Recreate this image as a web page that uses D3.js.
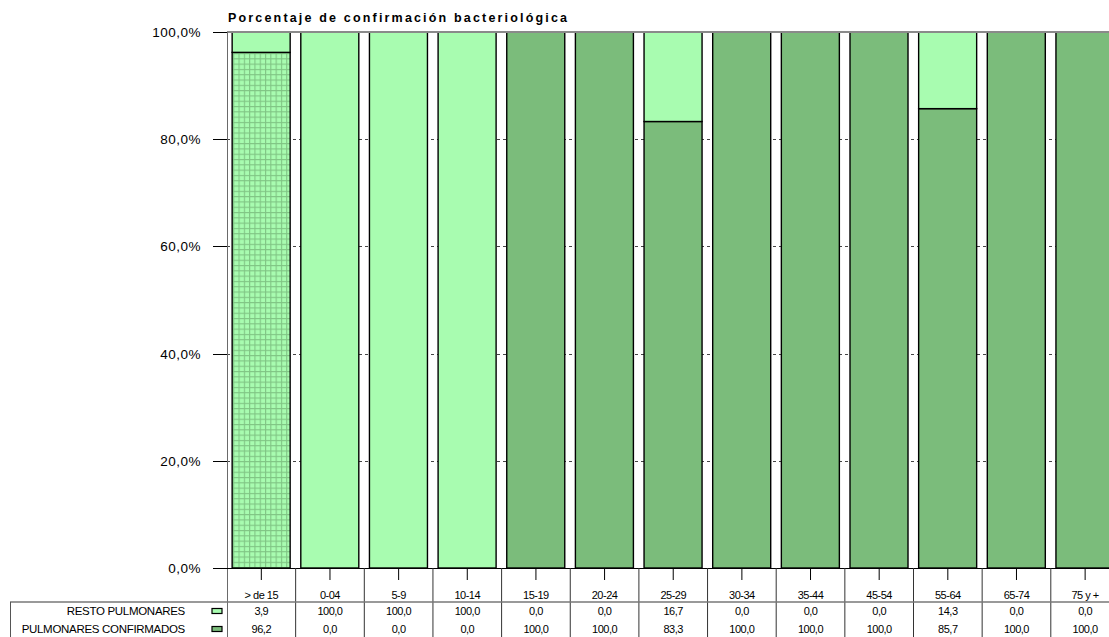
<!DOCTYPE html>
<html>
<head>
<meta charset="utf-8">
<script src="https://cdn.jsdelivr.net/npm/d3@7"></script>
<style>
  html, body { margin: 0; padding: 0; background: #fff; }
  svg { display: block; }
  text { font-family: "Liberation Sans", Arial, sans-serif; fill: #000; }
</style>
</head>
<body>
<svg id="chart" width="1109" height="637"></svg>
<script>
const title = "Porcentaje de confirmación bacteriológica";
const categories = ["> de 15","0-04","5-9","10-14","15-19","20-24","25-29","30-34","35-44","45-54","55-64","65-74","75 y +"];
const seriesNames = ["RESTO PULMONARES", "PULMONARES CONFIRMADOS"];
const resto =       [3.9, 100, 100, 100, 0, 0, 16.7, 0, 0, 0, 14.3, 0, 0];
const confirmados = [96.2, 0, 0, 0, 100, 100, 83.3, 100, 100, 100, 85.7, 100, 100];
const yTicks = [0, 20, 40, 60, 80, 100];

(function () {
const LIGHT = "#a8fcb0";
const DARK = "#7bbc7b";

const svg = d3.select("#chart");
const W = 1109, H = 637;
const pLeft = 227, pTop = 32, pBottom = 568;
const step = 68.65;

const x = d3.scaleBand().domain(categories).range([pLeft, pLeft + step * categories.length]).padding(0);
const y = d3.scaleLinear().domain([0, 100]).range([pBottom, pTop]);

const defs = svg.append("defs");
const pat = defs.append("pattern").attr("id", "grid").attr("patternUnits", "userSpaceOnUse")
  .attr("width", 5.3).attr("height", 5.3).attr("x", 0).attr("y", 0);
pat.append("rect").attr("width", 5.3).attr("height", 5.3).attr("fill", LIGHT);
pat.append("path").attr("d", "M0,0.5 H5.3 M0.5,0 V5.3").attr("stroke", "#80c484").attr("stroke-width", 1.2);

// gridlines (dashed)
svg.append("g").selectAll("line").data(yTicks.filter(t => t > 0 && t < 100)).join("line")
  .attr("x1", pLeft).attr("x2", W).attr("y1", d => Math.round(y(d)) + 0.5).attr("y2", d => Math.round(y(d)) + 0.5)
  .attr("stroke", "#444").attr("stroke-width", 1.2).attr("stroke-dasharray", "3,3");

const stack = categories.map((c, i) => {
  const c1 = Math.min(100, confirmados[i]);
  const r1 = Math.min(100, c1 + resto[i]);
  return {cat: c, i, segs: [
    {key: "conf", y0: 0, y1: c1},
    {key: "resto", y0: c1, y1: r1}
  ]};
});

const barOff = step * 0.075, barW = step * 0.845;
const gBars = svg.append("g");
stack.forEach(s => {
  s.segs.forEach(seg => {
    if (seg.y1 - seg.y0 <= 0) return;
    gBars.append("rect")
      .attr("x", x(s.cat) + barOff)
      .attr("y", y(seg.y1))
      .attr("width", barW)
      .attr("height", y(seg.y0) - y(seg.y1))
      .attr("fill", seg.key === "resto" ? LIGHT : (s.i === 0 ? "url(#grid)" : DARK))
      .attr("stroke", "#000").attr("stroke-width", 1.4);
  });
});

svg.append("line").attr("x1", pLeft).attr("x2", W).attr("y1", pTop).attr("y2", pTop)
  .attr("stroke", "#8a8a8a").attr("stroke-width", 2);

svg.append("line").attr("x1", pLeft + 0.5).attr("x2", pLeft + 0.5).attr("y1", pTop).attr("y2", H)
  .attr("stroke", "#6a6a6a").attr("stroke-width", 1);

const gy = svg.append("g");
gy.selectAll("line").data(yTicks).join("line")
  .attr("x1", 213).attr("x2", pLeft).attr("y1", d => Math.round(y(d)) + 0.5).attr("y2", d => Math.round(y(d)) + 0.5)
  .attr("stroke", "#000").attr("stroke-width", 1);
gy.selectAll("text").data(yTicks).join("text")
  .attr("x", 201).attr("y", d => y(d) + 5)
  .attr("text-anchor", "end")
  .style("font-size", "13.5px").style("letter-spacing", "0.5px")
  .text(d => d3.format(".1f")(d).replace(".", ",") + "%");

svg.append("line").attr("x1", 213).attr("x2", W).attr("y1", pBottom + 0.5).attr("y2", pBottom + 0.5)
  .attr("stroke", "#000").attr("stroke-width", 1.2);

svg.append("text").attr("x", 228).attr("y", 21.5)
  .style("font-size", "12.5px").style("font-weight", "bold")
  .attr("textLength", 339).attr("lengthAdjust", "spacing")
  .text(title);

svg.append("g").selectAll("line").data(categories).join("line")
  .attr("x1", d => x(d) + x.bandwidth() / 2).attr("x2", d => x(d) + x.bandwidth() / 2)
  .attr("y1", pBottom).attr("y2", 580).attr("stroke", "#000");

svg.append("g").selectAll("line").data(categories).join("line")
  .attr("x1", d => x(d) + x.bandwidth()).attr("x2", d => x(d) + x.bandwidth())
  .attr("y1", pBottom).attr("y2", H).attr("stroke", "#333").attr("stroke-width", 1);

svg.append("line").attr("x1", 10).attr("x2", W).attr("y1", 602).attr("y2", 602)
  .attr("stroke", "#777").attr("stroke-width", 1.5);
svg.append("line").attr("x1", 10.5).attr("x2", 10.5).attr("y1", 602).attr("y2", H)
  .attr("stroke", "#555").attr("stroke-width", 1);

svg.append("g").selectAll("text").data(categories).join("text")
  .attr("x", d => x(d) + x.bandwidth() / 2).attr("y", 599)
  .attr("text-anchor", "middle")
  .style("font-size", "11px").style("letter-spacing", "-0.5px")
  .text(d => d);

const rows = [resto, confirmados];
const rowY = [615, 633];
const fmt = v => d3.format(".1f")(v).replace(".", ",");
rows.forEach((vals, r) => {
  svg.append("text").attr("x", 185).attr("y", rowY[r]).attr("text-anchor", "end")
    .style("font-size", "11.5px").style("letter-spacing", "-0.3px")
    .text(seriesNames[r]);
  svg.append("rect").attr("x", 212).attr("y", rowY[r] - 6.5).attr("width", 10).attr("height", 5)
    .attr("fill", r === 0 ? LIGHT : DARK).attr("stroke", "#000").attr("stroke-width", 1.2);
  svg.append("g").selectAll("text").data(vals).join("text")
    .attr("x", (d, i) => x(categories[i]) + x.bandwidth() / 2)
    .attr("y", rowY[r])
    .attr("text-anchor", "middle")
    .style("font-size", "11px").style("letter-spacing", "-0.5px")
    .text(d => fmt(d));
});
})();
</script>
</body>
</html>
